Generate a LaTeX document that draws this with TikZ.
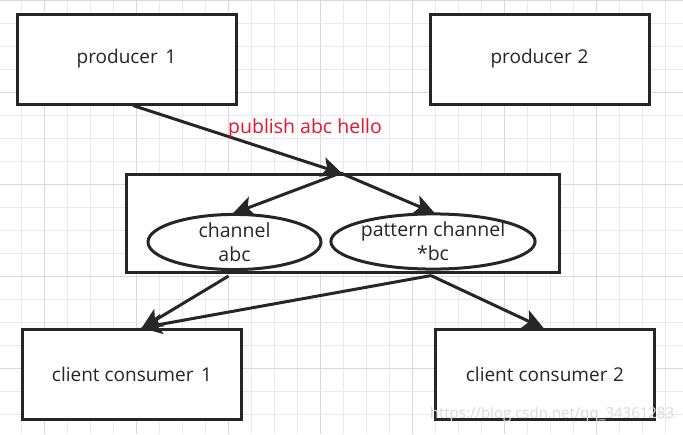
\documentclass[tikz,border=0pt]{standalone}
\usepackage{fontspec}
\setmainfont{Open Sans}
\usetikzlibrary{arrows.meta,shapes.geometric,calc}
\definecolor{ink}{HTML}{262626}
\definecolor{gridminor}{HTML}{E9E9E9}
\definecolor{gridmajor}{HTML}{D9D9D9}
\definecolor{pubred}{HTML}{E8142C}
\tikzset{
  box/.style={draw=ink, line width=3pt, fill=white, rectangle, minimum width=219pt, minimum height=90pt, inner sep=0pt, font=\fontsize{19}{22}\selectfont, text=ink},
  oval/.style={draw=ink, line width=3pt, fill=white, ellipse, inner sep=0pt, align=center, font=\fontsize{19.5}{24}\selectfont, text=ink},
  conn/.style={draw=ink, line width=3pt, -{Stealth[length=21pt,width=20pt,inset=5pt]}, shorten >=-2pt},
}
\begin{document}
\begin{tikzpicture}[x=1pt,y=-1pt]
\useasboundingbox (0,0) rectangle (683,434);
\fill[white] (0,0) rectangle (683,434);
% grid
\foreach \k in {0,...,29} {
  \pgfmathtruncatemacro{\m}{mod(\k+2,4)}
  \ifnum\m=0 \def\gc{gridmajor}\else\def\gc{gridminor}\fi
  \draw[\gc, line width=0.8pt] ({-1.3+23*\k},0) -- ({-1.3+23*\k},434);
}
\foreach \k in {0,...,18} {
  \pgfmathtruncatemacro{\m}{mod(\k,4)}
  \ifnum\m=0 \def\gc{gridmajor}\else\def\gc{gridminor}\fi
  \draw[\gc, line width=0.8pt] (0,{23*\k}) -- (683,{23*\k});
}
% nodes
\node[box] (p1) at (126.5,59) {producer\hspace{0.4em}1};
\node[box] (p2) at (539.5,59) {producer\hspace{0.3em}2};
\node[draw=ink, line width=3pt, fill=white, rectangle, minimum width=433pt, minimum height=98pt, inner sep=0pt] (hub) at (342.5,223.5) {};
\node[oval, minimum width=173pt, minimum height=52pt] (e1) at (234.5,242) {channel\\abc};
\node[oval, minimum width=204pt, minimum height=53pt] (e2) at (433,241.5) {pattern channel\\*bc};
\node[box] (c1) at (132,374) {client consumer\hspace{0.4em}1};
\node[box] (c2) at (545,374) {client consumer\hspace{0.3em}2};
% connector points
\coordinate (p1out) at ($(p1.south)+(6.5,0)$);
\coordinate (fork) at ($(hub.north)+(-2,0)$);
\coordinate (e1out) at ($(e1.south)+(-6,5)$);
\coordinate (e2out) at ($(e2.south)+(-2,5)$);
\coordinate (c1in) at ($(c1.north)+(11,0)$);
\coordinate (c2in) at ($(c2.north)+(-3,0)$);
% connectors
\draw[conn] (p1out) -- (fork);
\draw[conn] (fork) -- (e1.north);
\draw[conn] (fork) -- (e2.north);
\draw[conn] (e1out) -- (c1in);
\draw[conn] (e2out) -- (c1in);
\draw[conn] (e2out) -- (c2in);
% label
\node[text=pubred, font=\fontsize{19.5}{22}\selectfont, inner sep=0pt] (lbl) at (305,128) {publish abc hello};
% watermark
\node[text=gray!30, font=\fontsize{15}{17}\selectfont, inner sep=0pt] (wm) at (552,415) {https://blog.csdn.net/qq\_34361283};
\end{tikzpicture}
\end{document}
